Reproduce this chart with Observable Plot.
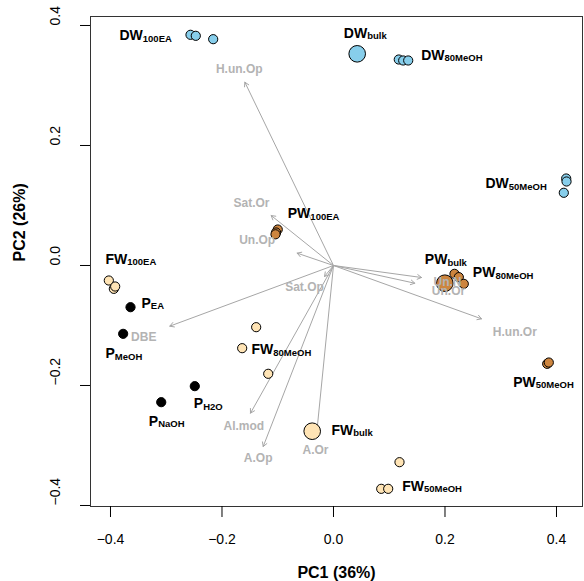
<!DOCTYPE html>
<html>
<head>
<meta charset="utf-8">
<script src="https://cdn.jsdelivr.net/npm/d3@7"></script>
<script src="https://cdn.jsdelivr.net/npm/@observablehq/plot@0.6"></script>
<style>
  html, body { margin: 0; padding: 0; background: white; }
  #chart { width: 584px; height: 581px; }
</style>
</head>
<body>
<div id="chart"></div>
<script>
// ---- Data ----
const xTicks = [-0.4, -0.2, 0.0, 0.2, 0.4];
const yTicks = [-0.4, -0.2, 0.0, 0.2, 0.4];

// sample scores
const sampleGroup = [
  "DWbulk", "PWbulk", "FWbulk",
  "DW100EA", "DW100EA", "DW100EA",
  "DW80MeOH", "DW80MeOH", "DW80MeOH",
  "DW50MeOH", "DW50MeOH", "DW50MeOH",
  "PW100EA", "PW100EA", "PW100EA",
  "PW80MeOH", "PW80MeOH", "PW80MeOH",
  "PW50MeOH", "PW50MeOH",
  "FW100EA", "FW100EA", "FW100EA",
  "FW80MeOH", "FW80MeOH", "FW80MeOH",
  "FW50MeOH", "FW50MeOH", "FW50MeOH",
  "PEA", "PMeOH", "PNaOH", "PH2O"
];
const sampleType = [
  "DW", "PW", "FW",
  "DW", "DW", "DW",
  "DW", "DW", "DW",
  "DW", "DW", "DW",
  "PW", "PW", "PW",
  "PW", "PW", "PW",
  "PW", "PW",
  "FW", "FW", "FW",
  "FW", "FW", "FW",
  "FW", "FW", "FW",
  "P", "P", "P", "P"
];
const samplePC1 = [
  0.0425, 0.1997, -0.0382,
  -0.2565, -0.2470, -0.2158,
  0.1171, 0.1250, 0.1340,
  0.4174, 0.4180, 0.4131,
  -0.1000, -0.1030, -0.1040,
  0.2170, 0.2248, 0.2337,
  0.3833, 0.3862,
  -0.4030, -0.3940, -0.3916,
  -0.1387, -0.1638, -0.1171,
  0.1184, 0.0856, 0.0981,
  -0.3641, -0.3773, -0.3090, -0.2488
];
const samplePC2 = [
  0.3528, -0.0295, -0.2762,
  0.3845, 0.3828, 0.3772,
  0.3433, 0.3417, 0.3417,
  0.1450, 0.1400, 0.1212,
  0.0600, 0.0550, 0.0520,
  -0.0139, -0.0194, -0.0306,
  -0.1639, -0.1617,
  -0.0250, -0.0389, -0.0350,
  -0.1028, -0.1378, -0.1805,
  -0.3278, -0.3722, -0.3722,
  -0.0695, -0.1139, -0.2278, -0.2011
];

// sample labels
const labelMain = ["DW", "DW", "DW", "DW", "PW", "PW", "PW", "PW", "FW", "FW", "FW", "FW", "P", "P", "P", "P"];
const labelSub  = ["100EA", "bulk", "80MeOH", "50MeOH", "100EA", "bulk", "80MeOH", "50MeOH", "100EA", "bulk", "80MeOH", "50MeOH", "EA", "MeOH", "NaOH", "H2O"];
const labelX = [-0.3839, 0.0185, 0.1573, 0.2726, -0.0820, 0.1638, 0.2499, 0.3223, -0.4090, -0.0036, -0.1471, 0.1232, -0.3444, -0.4090, -0.3313, -0.2506];
const labelY = [0.3833, 0.3867, 0.3500, 0.1362, 0.0862, 0.0095, -0.0122, -0.1945, 0.0100, -0.2750, -0.1405, -0.3683, -0.0628, -0.1472, -0.2595, -0.2305];

// variable loadings (arrows)
const varName = ["H.un.Op", "Sat.Or", "Un.Op", "DBE", "Sat.Op", "Al.mod", "A.Op", "A.Or", "Un.N", "Un.Or", "H.un.Or"];
const varPC1 = [-0.1590, -0.1118, -0.0652, -0.2936, -0.0161, -0.1489, -0.1261, -0.0310, 0.1578, 0.1458, 0.2655];
const varPC2 = [0.3055, 0.0833, 0.0206, -0.1011, -0.0183, -0.2461, -0.3017, -0.2872, -0.0200, -0.0295, -0.0889];
const varLabX = [-0.1691, -0.1471, -0.1369, -0.3403, -0.0520, -0.1609, -0.1351, -0.0323, 0.2045, 0.2063, 0.3252];
const varLabY = [0.3267, 0.1038, 0.0417, -0.1195, -0.0362, -0.2683, -0.3212, -0.3083, -0.0283, -0.0433, -0.1112];

const typeColors = {DW: "#87CEEB", PW: "#CD853F", FW: "#FFE4B5", P: "#000000"};

// ---- Build tables ----
const samples = sampleGroup.map((g, i) => ({
  group: g, type: sampleType[i], pc1: samplePC1[i], pc2: samplePC2[i], bulk: g.endsWith("bulk")
}));
const labels = labelMain.map((m, i) => ({text: m + "|" + labelSub[i], x: labelX[i], y: labelY[i]}));
const vars = varName.map((n, i) => ({name: n, x: varPC1[i], y: varPC2[i], lx: varLabX[i], ly: varLabY[i]}));

const fmt = d3.format(".1f");
const gray = "#A6A6A6";

const chart = Plot.plot({
  width: 584,
  height: 581,
  marginLeft: 90,
  marginRight: 2,
  marginTop: 16,
  marginBottom: 75,
  x: {domain: [-0.43587, 0.44664]},
  y: {domain: [-0.40167, 0.415]},
  color: {domain: Object.keys(typeColors), range: Object.values(typeColors)},
  style: {fontFamily: "'Liberation Sans', Arial, Helvetica, sans-serif", background: "white", color: "black"},
  marks: [
    Plot.frame({stroke: "#333", strokeWidth: 1}),
    Plot.axisX(xTicks, {tickSize: 11, tickFormat: () => "", label: null, stroke: "black"}),
    Plot.axisY(yTicks, {tickSize: 10, tickFormat: () => "", label: null, stroke: "black"}),
    Plot.text(xTicks, {x: d => d, text: d => fmt(d), frameAnchor: "bottom", dy: 33, fontSize: 14, lineAnchor: "middle", fill: "black"}),
    Plot.text(yTicks, {y: d => d, text: d => fmt(d), frameAnchor: "left", dx: -35, rotate: -90, fontSize: 14, lineAnchor: "middle", fill: "black"}),
    Plot.text(["PC1 (36%)"], {text: d => d, frameAnchor: "bottom", dy: 66, fontSize: 16, fontWeight: "bold", lineAnchor: "middle", fill: "black"}),
    Plot.text(["PC2 (26%)"], {text: d => d, frameAnchor: "left", dx: -71, rotate: -90, fontSize: 16, fontWeight: "bold", lineAnchor: "middle", fill: "black"}),
    Plot.arrow(vars, {x1: () => 0, y1: () => 0, x2: "x", y2: "y", stroke: gray, strokeWidth: 1, headLength: 7}),
    Plot.dot(samples.filter(d => d.bulk), {x: "pc1", y: "pc2", r: 8.3, fill: "type", stroke: "black", strokeWidth: 1}),
    Plot.dot(samples.filter(d => !d.bulk), {x: "pc1", y: "pc2", r: 4.6, fill: "type", stroke: "black", strokeWidth: 1}),
    Plot.text(vars, {x: "lx", y: "ly", text: "name", fill: "#B3B3B3", fontWeight: "bold", fontSize: 12, lineAnchor: "middle"}),
    Plot.text(labels, {x: "x", y: "y", text: "text", textAnchor: "start", fontWeight: "bold", fontSize: 14, lineAnchor: "middle", fill: "black"})
  ]
});

// subscripts
chart.querySelectorAll("text").forEach(t => {
  if (!t.textContent.includes("|")) return;
  const [main, sub] = t.textContent.split("|");
  t.textContent = main;
  const ts = document.createElementNS("http://www.w3.org/2000/svg", "tspan");
  ts.setAttribute("font-size", "9.5");
  ts.setAttribute("dy", "1.5");
  ts.textContent = sub;
  t.appendChild(ts);
});

document.getElementById("chart").appendChild(chart);
</script>
</body>
</html>
